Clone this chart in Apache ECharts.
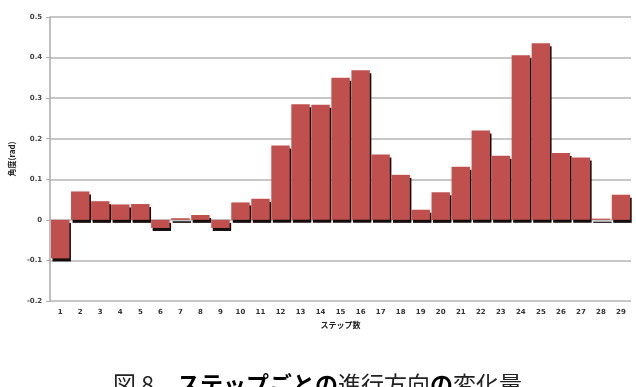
<!DOCTYPE html>
<html>
<head>
<meta charset="utf-8">
<script src="https://cdn.jsdelivr.net/npm/echarts@6/dist/echarts.min.js"></script>
<style>
html,body{margin:0;padding:0;background:#fff;}
#c{width:636px;height:387px;}
</style>
</head>
<body>
<div id="c"></div>
<script>
const steps = ['1','2','3','4','5','6','7','8','9','10','11','12','13','14','15','16','17','18','19','20','21','22','23','24','25','26','27','28','29'];
const angles = [-0.095,0.070,0.046,0.038,0.039,-0.020,0.004,0.012,-0.020,0.043,0.052,0.183,0.285,0.284,0.350,0.369,0.161,0.111,0.025,0.068,0.131,0.220,0.158,0.406,0.435,0.165,0.154,0.003,0.062];
const yTicks = {min:-0.2, max:0.5, interval:0.1};
const xName = 'ステップ数';
const yName = '角度(rad)';

const chart = echarts.init(document.getElementById('c'), null, {renderer:'canvas'});
chart.setOption({
  animation:false,
  backgroundColor:'#fff',
  title:{
    left:108, top:368,
    text:'{n|図 8　}{b|ステップごとの}{n|進行方向}{b|の}{n|変化量}',
    textStyle:{
      rich:{
        n:{fontFamily:'Noto Sans CJK JP', fontSize:23, fontWeight:'normal', color:'#222'},
        b:{fontFamily:'Noto Sans CJK JP', fontSize:23, fontWeight:'bold', color:'#000'}
      }
    }
  },
  grid:{left:50, right:5, top:17, bottom:86, containLabel:false},
  xAxis:{
    type:'category', data:steps,
    name:xName, nameLocation:'middle', nameGap:19,
    nameTextStyle:{fontFamily:'Noto Sans CJK JP', fontSize:8, fontWeight:'bold', color:'#222'},
    axisLine:{show:false}, axisTick:{show:false},
    axisLabel:{fontSize:7, fontWeight:'bold', color:'#333', margin:8, fontFamily:'DejaVu Sans', interval:0}
  },
  yAxis:{
    type:'value', min:yTicks.min, max:yTicks.max, interval:yTicks.interval,
    name:yName, nameLocation:'middle', nameGap:28, nameRotate:90,
    nameTextStyle:{fontFamily:'Noto Sans CJK JP', fontSize:8, fontWeight:'bold', color:'#222'},
    axisLine:{show:true, lineStyle:{color:'#aaa', width:1.5}},
    axisTick:{show:true, length:4, lineStyle:{color:'#aaa'}},
    axisLabel:{fontSize:7, fontWeight:'bold', color:'#444', margin:8, fontFamily:'DejaVu Sans'},
    splitLine:{lineStyle:{color:'#b4b4b4', width:1.5}}
  },
  series:[{
    type:'bar', data:angles,
    barCategoryGap:'8%',
    itemStyle:{
      color:'#c0504d', borderWidth:0,
      shadowColor:'rgba(10,0,0,0.95)', shadowBlur:0, shadowOffsetX:1.5, shadowOffsetY:3
    }
  }]
});
</script>
</body>
</html>
